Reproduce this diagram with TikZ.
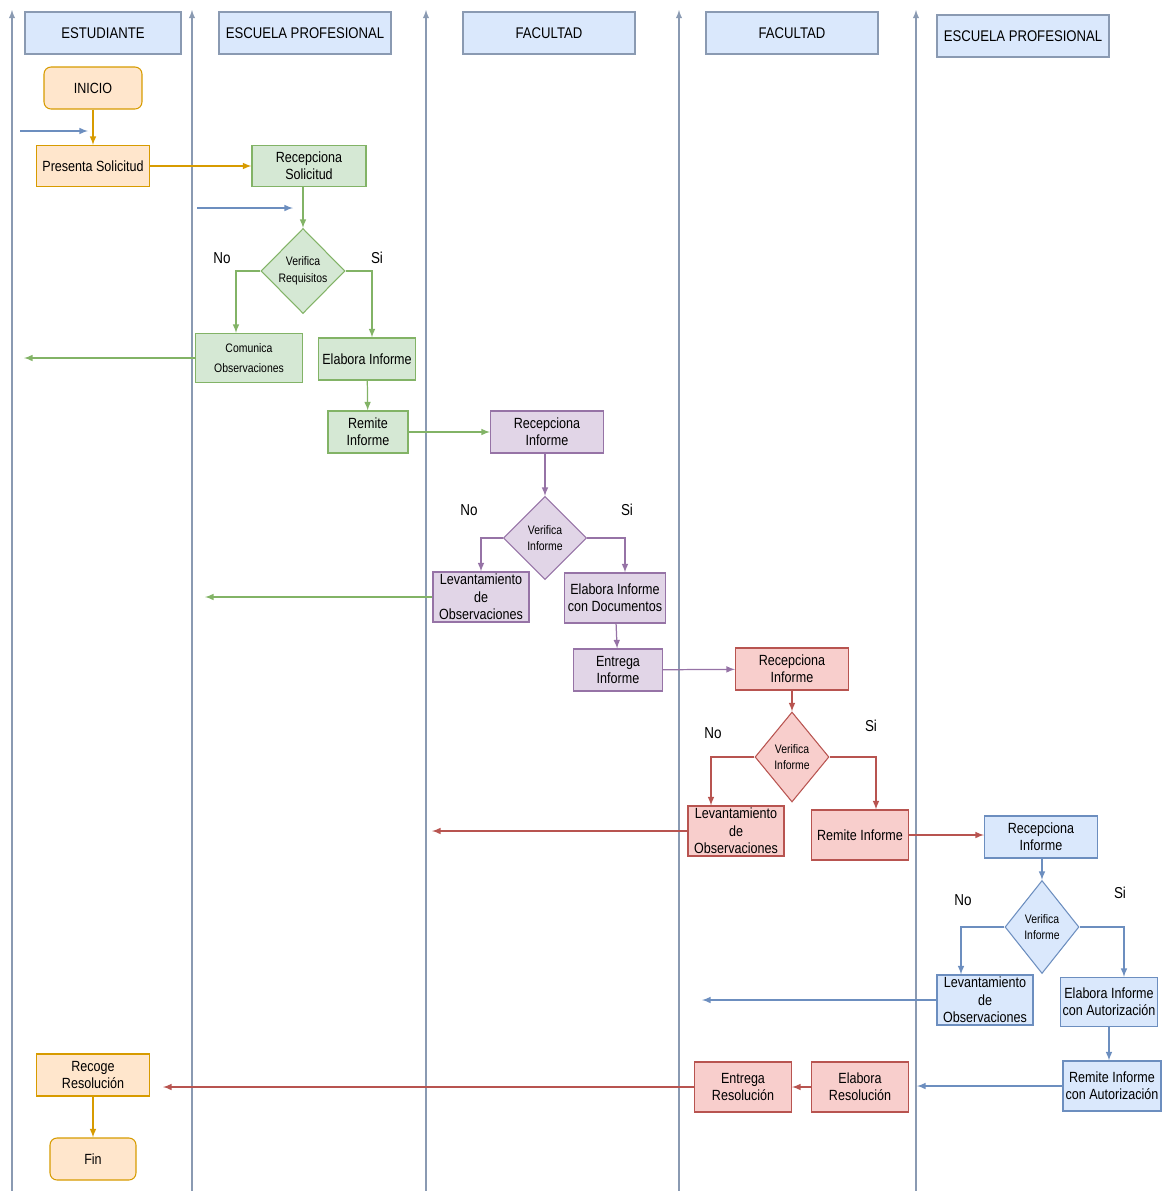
\documentclass[tikz,border=0pt]{standalone}
\usepackage{fontspec}
\setmainfont{Liberation Sans}[FakeStretch=0.85]
\usetikzlibrary{shapes.geometric}

\definecolor{azulfill}{HTML}{DAE8FC}
\definecolor{azulline}{HTML}{6C8EBF}
\definecolor{naranjafill}{HTML}{FFE6CC}
\definecolor{naranjaline}{HTML}{D79B00}
\definecolor{verdefill}{HTML}{D5E8D4}
\definecolor{verdeline}{HTML}{82B366}
\definecolor{moradofill}{HTML}{E1D5E7}
\definecolor{moradoline}{HTML}{9673A6}
\definecolor{rojofill}{HTML}{F8CECC}
\definecolor{rojoline}{HTML}{B85450}
\definecolor{carril}{HTML}{8A9AB2}

\tikzset{
  caja/.style={draw=#1line, fill=#1fill, align=center, inner sep=1pt, line width=0.6pt,
    font=\fontsize{8.4}{9.8}\selectfont},
  inicio/.style={caja=#1, rounded corners=4pt},
  rombo/.style={caja=#1, diamond, font=\fontsize{7}{9.5}\selectfont},
  levant/.style={caja=#1, minimum width=1.92cm, minimum height=1.0cm, inner ysep=-2pt,
    font=\fontsize{8.4}{10}\selectfont},
  hdr/.style={caja=azul, draw=carril, minimum width=3.44cm, minimum height=0.84cm,
    font=\fontsize{8.8}{10}\selectfont},
  flecha/.style={draw=#1line, line width=0.7pt, -latex},
  carrilflecha/.style={draw=carril, line width=0.6pt, -latex},
  rotulo/.style={font=\fontsize{9}{10}\selectfont},
}

\begin{document}
\begin{tikzpicture}[x=0.02cm, y=-0.02cm]
\useasboundingbox (0,0) rectangle (1169,1191);

%carriles
\foreach \cx in {12,192,426,679,916}
  \draw[carrilflecha] (\cx,1191) -- (\cx,10);

%cabeceras
\node[hdr, minimum width=3.12cm] (h1) at (103,33) {ESTUDIANTE};
\node[hdr] (h2) at (305,33) {ESCUELA PROFESIONAL};
\node[hdr] (h3) at (549,33) {FACULTAD};
\node[hdr] (h4) at (792,33) {FACULTAD};
\node[hdr] (h5) at (1023,36) {ESCUELA PROFESIONAL};

%estudiante
\node[inicio=naranja, minimum width=1.96cm, minimum height=0.84cm] (ini) at (93,88) {INICIO};
\node[caja=naranja, minimum width=2.26cm, minimum height=0.82cm] (ps) at (93,166) {Presenta Solicitud};
\node[caja=naranja, minimum width=2.26cm, minimum height=0.84cm] (rr) at (93,1075) {Recoge\\Resolución};
\node[inicio=naranja, minimum width=1.72cm, minimum height=0.84cm] (fin) at (93,1159) {Fin};

%escuela profesional
\node[caja=verde, minimum width=2.28cm, minimum height=0.82cm] (rs) at (309,166) {Recepciona\\Solicitud};
\node[rombo=verde, minimum width=1.66cm, minimum height=1.7cm] (vr) at (303,271) {Verifica\\Requisitos};
\node[rotulo] (no1) at (222,258) {No};
\node[rotulo] (si1) at (377,258) {Si};
\node[caja=verde, minimum width=2.14cm, minimum height=0.98cm, font=\fontsize{7}{11}\selectfont] (co) at (249,358) {Comunica\\Observaciones};
\node[caja=verde, minimum width=1.94cm, minimum height=0.84cm] (ei) at (367,359) {Elabora Informe};
\node[caja=verde, minimum width=1.6cm, minimum height=0.84cm] (ri) at (368,432) {Remite\\Informe};

%facultad
\node[caja=morado, minimum width=2.26cm, minimum height=0.84cm] (rf) at (547,432) {Recepciona\\Informe};
\node[rombo=morado, minimum width=1.66cm, minimum height=1.66cm] (vf) at (545,538) {Verifica\\Informe};
\node[rotulo] (no2) at (469,510) {No};
\node[rotulo] (si2) at (627,510) {Si};
\node[levant=morado] (lf) at (481,597) {Levantamiento\\de\\Observaciones};
\node[caja=morado, minimum width=2.02cm, minimum height=1.0cm] (ed) at (615,598) {Elabora Informe\\con Documentos};
\node[caja=morado, minimum width=1.78cm, minimum height=0.84cm] (ef) at (618,670) {Entrega\\Informe};

%facultad 2
\node[caja=rojo, minimum width=2.26cm, minimum height=0.84cm] (rf2) at (792,669) {Recepciona\\Informe};
\node[rombo=rojo, minimum width=1.48cm, minimum height=1.8cm] (vf2) at (792,757) {Verifica\\Informe};
\node[rotulo] (no3) at (713,733) {No};
\node[rotulo] (si3) at (871,726) {Si};
\node[levant=rojo] (lf2) at (736,831) {Levantamiento\\de\\Observaciones};
\node[caja=rojo, minimum width=1.94cm, minimum height=1.0cm] (rm2) at (860,835) {Remite Informe};
\node[caja=rojo, minimum width=1.94cm, minimum height=1.0cm] (er) at (860,1087) {Elabora\\Resolución};
\node[caja=rojo, minimum width=1.94cm, minimum height=1.0cm] (en) at (743,1087) {Entrega\\Resolución};

%escuela profesional 2
\node[caja=azul, minimum width=2.26cm, minimum height=0.84cm] (re) at (1041,837) {Recepciona\\Informe};
\node[rombo=azul, minimum width=1.48cm, minimum height=1.86cm] (ve) at (1042,927) {Verifica\\Informe};
\node[rotulo] (no4) at (963,900) {No};
\node[rotulo] (si4) at (1120,893) {Si};
\node[levant=azul] (le) at (985,1000) {Levantamiento\\de\\Observaciones};
\node[caja=azul, minimum width=1.94cm, minimum height=0.98cm] (ea) at (1109,1002) {Elabora Informe\\con Autorización};
\node[caja=azul, minimum width=1.96cm, minimum height=1.0cm] (ra) at (1112,1086) {Remite Informe\\con Autorización};

%extremos libres
\coordinate (in1) at (20,131);
\coordinate (in1f) at (88,131);
\coordinate (in2) at (197,208);
\coordinate (in2f) at (293,208);
\coordinate (s1) at (24,358);
\coordinate (s2) at (205,597);
\coordinate (s3) at (432,831);
\coordinate (s4) at (702,1000);
\coordinate (s5) at (917,1086);
\coordinate (s6) at (163,1087);

%flechas
\draw[flecha=azul] (in1) -- (in1f);
\draw[flecha=azul] (in2) -- (in2f);
\draw[flecha=naranja] (ini) -- (ps);
\draw[flecha=naranja] (ps) -- (rs);
\draw[flecha=naranja] (rr) -- (fin);

\draw[flecha=verde] (rs.south -| vr) -- (vr);
\draw[flecha=verde] (vr.west) -| ([xshift=-0.26cm]co.north);
\draw[flecha=verde] (vr.east) -| ([xshift=0.1cm]ei.north);
\draw[flecha=verde] (ei) -- (ri);
\draw[flecha=verde] (co) -- (s1);
\draw[flecha=verde] (ri) -- (rf);

\draw[flecha=morado] (rf.south -| vf) -- (vf);
\draw[flecha=morado] (vf.west) -| (lf.north);
\draw[flecha=morado] (vf.east) -| ([xshift=0.2cm]ed.north);
\draw[flecha=morado] (ed) -- (ef);
\draw[flecha=verde] (lf) -- (s2);
\draw[flecha=morado] (ef) -- (rf2);

\draw[flecha=rojo] (rf2) -- (vf2);
\draw[flecha=rojo] (vf2.west) -| ([xshift=-0.5cm]lf2.north);
\draw[flecha=rojo] (vf2.east) -| ([xshift=0.32cm]rm2.north);
\draw[flecha=rojo] (lf2) -- (s3);
\draw[flecha=rojo] (rm2) -- (rm2 -| re.west);

\draw[flecha=azul] (re.south -| ve) -- (ve);
\draw[flecha=azul] (ve.west) -| ([xshift=-0.48cm]le.north);
\draw[flecha=azul] (ve.east) -| ([xshift=0.3cm]ea.north);
\draw[flecha=azul] (ea.south) -- (ea.south |- ra.north);
\draw[flecha=azul] (le) -- (s4);
\draw[flecha=azul] (ra) -- (s5);
\draw[flecha=rojo] (er) -- (en);
\draw[flecha=rojo] (en) -- (s6);
\end{tikzpicture}
\end{document}
